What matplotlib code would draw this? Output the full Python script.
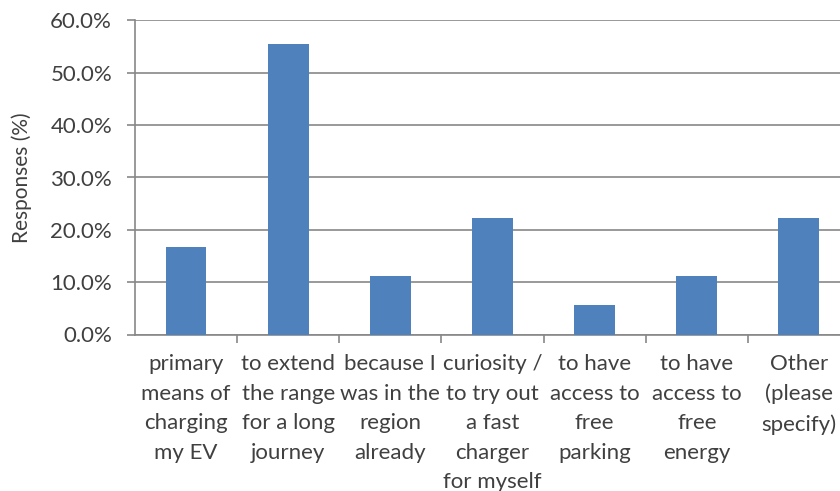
import numpy as np
import matplotlib.pyplot as plt
from matplotlib.ticker import PercentFormatter

# 数据 (n = 18 responses)
categories = ['primary\nmeans of\ncharging\nmy EV',
              'to extend\nthe range\nfor a long\njourney',
              'because I\nwas in the\nregion\nalready',
              'curiosity /\nto try out\na fast\ncharger\nfor myself',
              'to have\naccess to\nfree\nparking',
              'to have\naccess to\nfree\nenergy',
              'Other\n(please\nspecify)']
responses = [16.7, 55.6, 11.1, 22.2, 5.6, 11.1, 22.2]
y_ticks = [0, 10, 20, 30, 40, 50, 60]

plt.rcParams['font.family'] = ['Lato', 'DejaVu Sans']
text_color = '#404040'
axis_color = '#878787'
bar_color = '#4f81bd'

fig = plt.figure(figsize=(8.4, 4.91), dpi=100)
# 轴域右侧超出画布 (原图被裁切)
ax = fig.add_axes([135 / 840, 1 - 334.5 / 491, 715 / 840, 314 / 491])

x = np.arange(len(categories))
ax.bar(x, responses, width=0.4, color=bar_color, zorder=3)

ax.set_xlim(-0.5, len(categories) - 0.5)
ax.set_ylim(0, 60)
ax.set_yticks(y_ticks)
ax.yaxis.set_major_formatter(PercentFormatter(decimals=1))
ax.grid(axis='y', color=axis_color, linewidth=1.2, zorder=0)

ax.set_xticks(x)
ax.set_xticklabels(categories, linespacing=1.6, va='top')
ax.set_xticks(np.arange(len(categories)) + 0.5, minor=True)
ax.tick_params(axis='x', which='major', length=0, pad=14, labelsize=16, colors=text_color)
ax.tick_params(axis='x', which='minor', length=6, width=1.2, color=axis_color, direction='out')
ax.tick_params(axis='y', length=6, width=1.2, color=axis_color, labelsize=16,
               labelcolor=text_color, pad=10.5)

for side in ['top', 'right']:
    ax.spines[side].set_visible(False)
for side in ['left', 'bottom']:
    ax.spines[side].set_color(axis_color)
    ax.spines[side].set_linewidth(1.2)

ax.set_ylabel('Responses (%)', fontsize=15, color=text_color)
ax.yaxis.set_label_coords((32 - 135) / 715, 0.5)

fig.savefig('out.png', dpi=100)
